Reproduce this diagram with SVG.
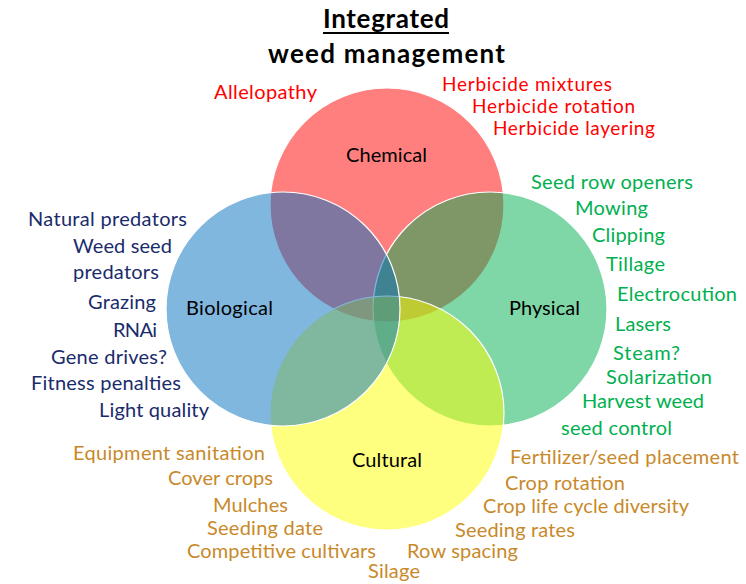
<svg xmlns="http://www.w3.org/2000/svg" width="746" height="584" viewBox="0 0 746 584">
<style>
text{font-family:Lato,"Open Sans","Liberation Sans",sans-serif;font-size:20px}
.title{font-weight:bold;font-size:26px;fill:#000}
.lbl{fill:#000}
.c{stroke:#ffffff;stroke-width:1.2;fill-opacity:0.5}
.red{fill:#FF0000}
.grn{fill:#00B050}
.blu{fill:#1A2B6B}
.org{fill:#C8892A}
</style>
<rect width="746" height="584" fill="#ffffff"/>
<g id="title">
<text class="title" x="323" y="28" textLength="126">Integrated</text>
<line x1="323" y1="33" x2="449" y2="33" stroke="#000" stroke-width="1.8"/>
<text class="title" x="268" y="63" textLength="237">weed management</text>
</g>
<g id="chemical">
<circle class="c" cx="387" cy="205" r="117" fill="#FF0000"/>
<text class="lbl" x="346" y="162" textLength="81">Chemical</text>
<text class="red" x="214" y="99" textLength="103">Allelopathy</text>
<text class="red" x="442" y="91" textLength="170" style="font-size:19px">Herbicide mixtures</text>
<text class="red" x="472" y="113" textLength="163" style="font-size:19px">Herbicide rotation</text>
<text class="red" x="493" y="135" textLength="162" style="font-size:19px">Herbicide layering</text>
</g>
<g id="physical">
<circle class="c" cx="490" cy="309" r="117" fill="#00B050"/>
<text class="lbl" x="509" y="315" textLength="71">Physical</text>
<text class="grn" x="531" y="189" textLength="162">Seed row openers</text>
<text class="grn" x="575" y="215" textLength="73">Mowing</text>
<text class="grn" x="592" y="242" textLength="73">Clipping</text>
<text class="grn" x="606" y="271" textLength="59">Tillage</text>
<text class="grn" x="617" y="301" textLength="120">Electrocution</text>
<text class="grn" x="615" y="331" textLength="56">Lasers</text>
<text class="grn" x="613" y="360" textLength="67">Steam?</text>
<text class="grn" x="606" y="384" textLength="106">Solarization</text>
<text class="grn" x="582" y="408" textLength="122">Harvest weed</text>
<text class="grn" x="561" y="435" textLength="111">seed control</text>
</g>
<g id="cultural">
<circle class="c" cx="387" cy="413" r="117" fill="#FFFF00"/>
<text class="lbl" x="352" y="467" textLength="70">Cultural</text>
<text class="org" x="73" y="460" textLength="192">Equipment sanitation</text>
<text class="org" x="168" y="485" textLength="105">Cover crops</text>
<text class="org" x="213" y="512" textLength="75">Mulches</text>
<text class="org" x="207" y="535" textLength="116">Seeding date</text>
<text class="org" x="187" y="558" textLength="189">Competitive cultivars</text>
<text class="org" x="368" y="578" textLength="52">Silage</text>
<text class="org" x="510" y="464" textLength="229">Fertilizer/seed placement</text>
<text class="org" x="505" y="490" textLength="120">Crop rotation</text>
<text class="org" x="483" y="513" textLength="206">Crop life cycle diversity</text>
<text class="org" x="455" y="537" textLength="120">Seeding rates</text>
<text class="org" x="407" y="558" textLength="111">Row spacing</text>
</g>
<g id="biological">
<circle class="c" cx="283" cy="309" r="117" fill="#0070C0"/>
<text class="lbl" x="186" y="315" textLength="87">Biological</text>
<text class="blu" x="28" y="226" textLength="159">Natural predators</text>
<text class="blu" x="73" y="253" textLength="99">Weed seed</text>
<text class="blu" x="73" y="279" textLength="86">predators</text>
<text class="blu" x="88" y="309" textLength="68">Grazing</text>
<text class="blu" x="113" y="337" textLength="44">RNAi</text>
<text class="blu" x="51" y="364" textLength="116">Gene drives?</text>
<text class="blu" x="31" y="390" textLength="150">Fitness penalties</text>
<text class="blu" x="99" y="417" textLength="110">Light quality</text>
</g>
<g id="connectors"></g>
</svg>
